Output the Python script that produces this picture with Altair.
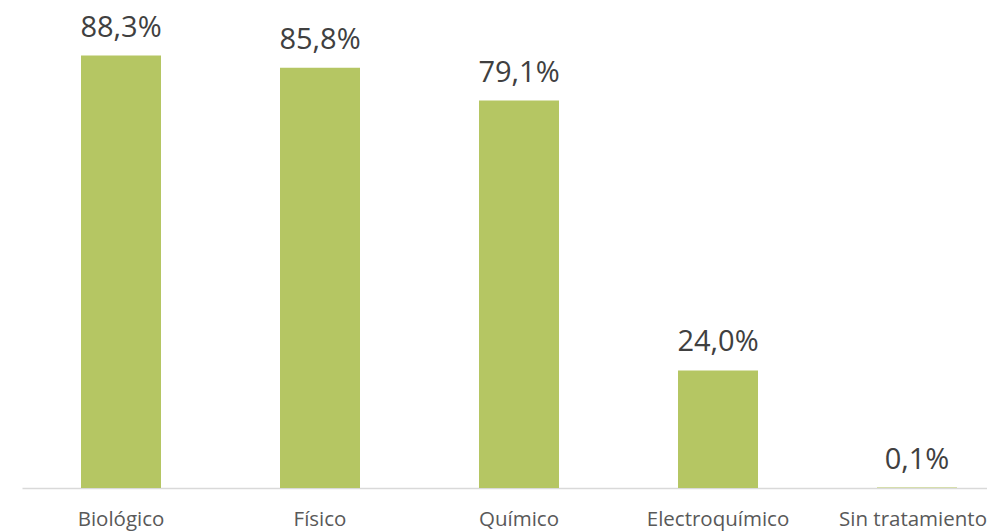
import altair as alt
import pandas as pd

categories = ["Biológico", "Físico", "Químico", "Electroquímico", "Sin tratamiento"]
values = [88.3, 85.8, 79.1, 24.0, 0.1]
labels = [f"{v:.1f}".replace(".", ",") + "%" for v in values]

df = pd.DataFrame({"cat": categories, "val": values, "label": labels})

x = alt.X("cat:N", sort=categories, title=None,
          scale=alt.Scale(paddingInner=0.598, paddingOuter=0.2236, align=0.663),
          axis=alt.Axis(labelAngle=0, ticks=False, labelPadding=21, labelFontSize=20.5,
                        labelOffset={"condition": {"test": "datum.value == 'Sin tratamiento'", "value": -4}, "value": 0},
                        labelFont="Open Sans", labelColor="#595959",
                        domainColor="#D9D9D9", domainWidth=1.5, grid=False))
y = alt.Y("val:Q", scale=alt.Scale(domain=[0, 98], nice=False), axis=None)

bars = alt.Chart(df).mark_bar(color="#B5C663").encode(x=x, y=y)
text = alt.Chart(df).mark_text(font="Open Sans", fontSize=29, color="#404040",
                               baseline="alphabetic", dy=-19).encode(x=x, y=y, text="label:N")

chart = (bars + text).properties(
    width=965, height=480,
    autosize=alt.AutoSizeParams(type="none"),
    padding={"left": 14, "top": 0, "right": 0, "bottom": 44},
).configure_view(stroke=None)

chart.save("out.html", embed_options={"renderer": "svg", "actions": False})
